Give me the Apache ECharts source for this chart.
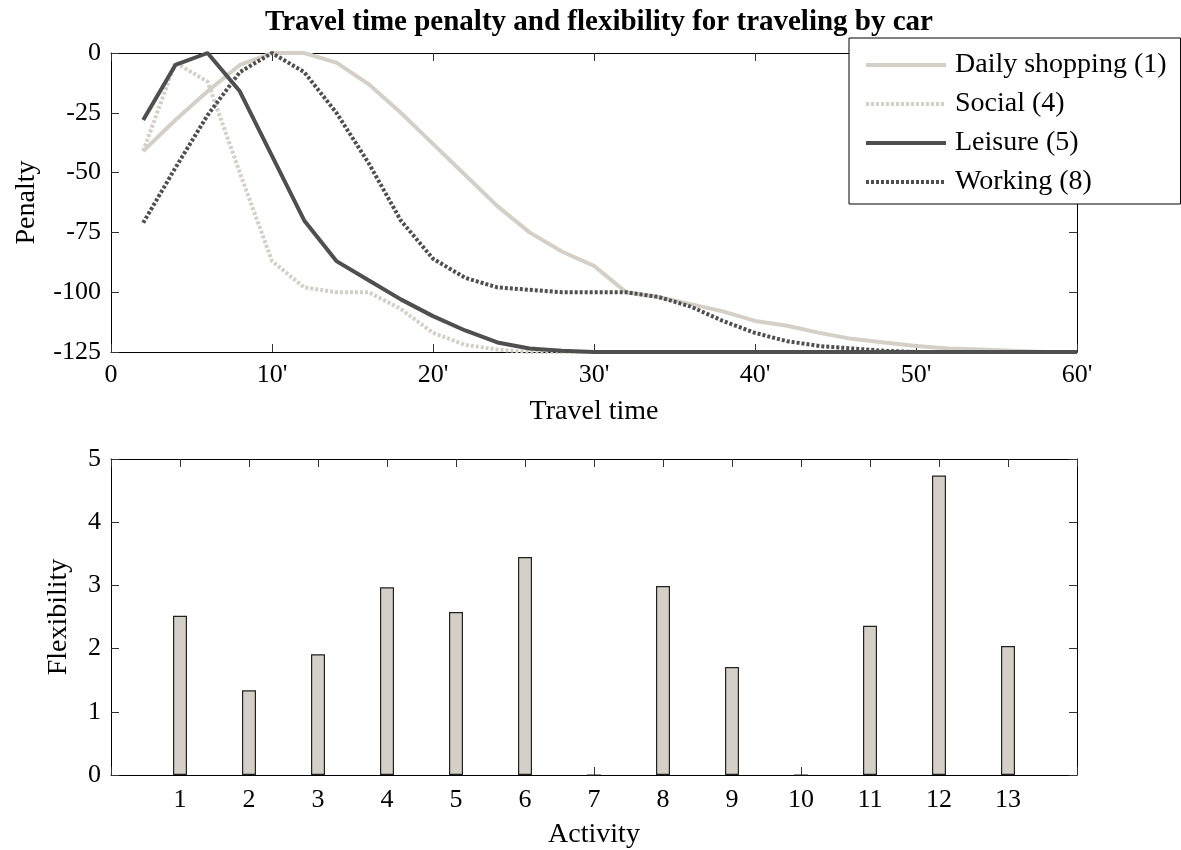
<!DOCTYPE html>
<html>
<head>
<meta charset="utf-8">
<script src="https://cdn.jsdelivr.net/npm/echarts@6/dist/echarts.min.js"></script>
<style>
  html, body { margin: 0; padding: 0; background: #fff; }
  #main { width: 1181px; height: 850px; }
</style>
</head>
<body>
<div id="main"></div>
<script>
// travel time (minutes)
const times = [2, 4, 6, 8, 10, 12, 14, 16, 18, 20, 22, 24, 26, 28, 30,
  32, 34, 36, 38, 40, 42, 44, 46, 48, 50, 52, 54, 56, 58, 60];

const dailyShopping = [-41, -28, -16, -5, 0, 0, -4, -13, -25, -38, -51, -64, -75, -83, -89,
  -100, -102, -105, -108, -112, -114, -117, -119.5, -121, -122.5, -123.5, -124, -124.5, -125, -125];
const social = [-41, -4, -12, -50, -87, -98, -100, -100, -107, -117, -122, -124, -125, -125, -125,
  -125, -125, -125, -125, -125, -125, -125, -125, -125, -125, -125, -125, -125, -125, -125];
const leisure = [-28, -5, 0, -16, -43, -70, -87, -95, -103, -110, -116, -121, -123.5, -124.5, -125,
  -125, -125, -125, -125, -125, -125, -125, -125, -125, -125, -125, -125, -125, -125, -125];
const working = [-71, -48, -26, -8, 0, -8, -25, -46, -70, -86, -94, -98, -99, -100, -100,
  -100, -102, -106, -112, -117, -120.5, -122.5, -123.5, -124.5, -125, -125, -125, -125, -125, -125];

const lineNames = ["Daily shopping (1)", "Social (4)", "Leisure (5)", "Working (8)"];

// flexibility per activity
const activities = [1, 2, 3, 4, 5, 6, 7, 8, 9, 10, 11, 12, 13];
const flexibility = [2.52, 1.34, 1.91, 2.97, 2.58, 3.45, 0, 2.99, 1.71, 0, 2.36, 4.74, 2.04];

const FONT = "Liberation Serif";
const LIGHT = "#d4d0c8";
const DARK = "#4f4f4f";

const pairs = (xs, ys) => xs.map((x, i) => [x, ys[i]]);

let chart = echarts.init(document.getElementById("main"), null, { renderer: "canvas" });

// every side of both boxes gets a line with inward ticks
const frame = (extra) => Object.assign({
  axisLine: { show: true, onZero: false, lineStyle: { color: "#000", width: 1 } },
  axisTick: { show: true, inside: true, length: 8, lineStyle: { color: "#333" } },
  splitLine: { show: false },
}, extra);

const tickText = { color: "#000", fontFamily: FONT, fontSize: 26 };
const nameText = { color: "#000", fontFamily: FONT, fontSize: 28 };

let lineSeries = (name, data, color, dashed) => ({
  name: name,
  type: "line",
  xAxisIndex: 0,
  yAxisIndex: 0,
  data: pairs(times, data),
  symbol: "none",
  smooth: false,
  lineStyle: {
    color: color,
    width: 4,
    type: dashed ? [3, 2] : "solid",
  },
  itemStyle: { color: color },
});

let option = {
  backgroundColor: "#fff",
  animation: false,
  title: {
    text: "Travel time penalty and flexibility for traveling by car",
    left: 594,
    textAlign: "center",
    top: 3,
    textStyle: { fontFamily: FONT, fontSize: 29, fontWeight: "bold", color: "#000" },
  },
  legend: {
    data: lineNames,
    orient: "vertical",
    left: 849,
    top: 38,
    itemWidth: 80,
    itemHeight: 28,
    itemGap: 11,
    padding: [13, 14, 8, 15],
    backgroundColor: "#fff",
    borderColor: "#000",
    borderWidth: 1,
    borderRadius: 0,
    itemStyle: { opacity: 0 },
    lineStyle: { width: 4 },
    textStyle: { fontFamily: FONT, fontSize: 28, color: "#000", padding: [0, 0, 0, 4] },
    z: 10,
  },
  grid: [
    { left: 111, right: 104, top: 53, height: 299 },
    { left: 111, right: 104, top: 459, height: 316 },
  ],
  xAxis: [
    frame({
      type: "value", gridIndex: 0, min: 0, max: 60, interval: 10,
      name: "Travel time", nameLocation: "middle", nameGap: 46, nameTextStyle: nameText,
      axisLabel: Object.assign({ margin: 10, formatter: (v) => (v === 0 ? "0" : v + "'") }, tickText),
    }),
    frame({
      type: "value", gridIndex: 0, min: 0, max: 60, interval: 10, position: "top",
      axisLabel: { show: false },
    }),
    frame({
      type: "value", gridIndex: 1, min: 0, max: 14, interval: 1,
      name: "Activity", nameLocation: "middle", nameGap: 46, nameTextStyle: nameText,
      axisLabel: Object.assign({ margin: 12, formatter: (v) => (v === 0 || v === 14 ? "" : String(v)) }, tickText),
    }),
    frame({
      type: "value", gridIndex: 1, min: 0, max: 14, interval: 1, position: "top",
      axisLabel: { show: false },
    }),
  ],
  yAxis: [
    frame({
      type: "value", gridIndex: 0, min: -125, max: 0, interval: 25,
      name: "Penalty", nameLocation: "middle", nameGap: 70, nameTextStyle: nameText,
      axisLabel: Object.assign({ margin: 10 }, tickText),
    }),
    frame({
      type: "value", gridIndex: 0, min: -125, max: 0, interval: 25, position: "right",
      axisLabel: { show: false },
    }),
    frame({
      type: "value", gridIndex: 1, min: 0, max: 5, interval: 1,
      name: "Flexibility", nameLocation: "middle", nameGap: 38, nameTextStyle: nameText,
      axisLabel: Object.assign({ margin: 10 }, tickText),
    }),
    frame({
      type: "value", gridIndex: 1, min: 0, max: 5, interval: 1, position: "right",
      axisLabel: { show: false },
    }),
  ],
  series: [
    lineSeries(lineNames[0], dailyShopping, LIGHT, false),
    lineSeries(lineNames[1], social, LIGHT, true),
    lineSeries(lineNames[2], leisure, DARK, false),
    lineSeries(lineNames[3], working, DARK, true),
    {
      name: "Flexibility",
      type: "bar",
      xAxisIndex: 2,
      yAxisIndex: 2,
      barWidth: 14,
      data: pairs(activities, flexibility),
      itemStyle: { color: LIGHT, borderColor: "#222", borderWidth: 1.2 },
    },
  ],
};

if (chart) {
  chart.setOption(option);
}
</script>
</body>
</html>
